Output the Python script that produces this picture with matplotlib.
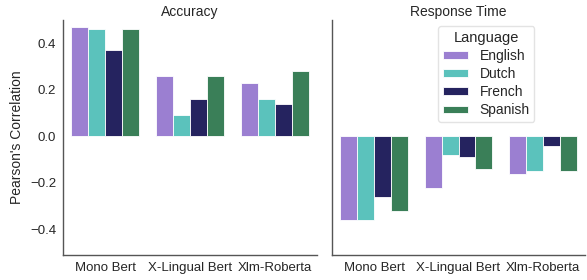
import numpy as np
import matplotlib.pyplot as plt

plt.rcParams['font.family'] = ['Liberation Sans', 'DejaVu Sans']

models = ['Mono Bert', 'X-Lingual Bert', 'Xlm-Roberta']
languages = ['English', 'Dutch', 'French', 'Spanish']
colors = ['#9b7fd1', '#5bc2bc', '#25235f', '#3a7f58']

# Pearson's correlation per model (rows) and language (cols)
accuracy = [
    [0.47, 0.46, 0.37, 0.46],
    [0.26, 0.09, 0.16, 0.26],
    [0.23, 0.16, 0.14, 0.28],
]
response_time = [
    [-0.36, -0.36, -0.26, -0.32],
    [-0.22, -0.08, -0.09, -0.14],
    [-0.16, -0.15, -0.04, -0.15],
]

fig = plt.figure(figsize=(5.87, 2.8), dpi=100)
ax1 = fig.add_axes([63 / 587, 25 / 280, 254 / 587, 235 / 280])
ax2 = fig.add_axes([332 / 587, 25 / 280, 253 / 587, 235 / 280], sharey=ax1)

x = np.arange(len(models))
w = 0.2
for ax, data, title in [(ax1, accuracy, 'Accuracy'), (ax2, response_time, 'Response Time')]:
    data = np.array(data)
    for j, lang in enumerate(languages):
        ax.bar(x - 0.3 + j * w, data[:, j], width=w, color=colors[j],
               edgecolor='white', linewidth=0.6, label=lang)
    ax.set_xticks(x)
    ax.set_xticklabels(models, fontsize=9.5, color='#262626')
    ax.set_title(title, fontsize=10, color='#262626', pad=3)
    ax.spines['top'].set_visible(False)
    ax.spines['right'].set_visible(False)
    for s in ['left', 'bottom']:
        ax.spines[s].set_color('#555555')
        ax.spines[s].set_linewidth(1.0)
    ax.tick_params(length=0, pad=5, labelsize=9.5, colors='#262626')
    ax.set_xlim(-0.5, 2.5)

ax1.set_ylim(-0.51, 0.5)
ax1.set_yticks([-0.4, -0.2, 0.0, 0.2, 0.4])
ax1.set_ylabel("Pearson's Correlation", fontsize=10, color='#262626')
ax2.tick_params(axis='y', labelleft=False)

leg = ax2.legend(title='Language', loc='upper right', bbox_to_anchor=(0.8, 0.975),
                 borderaxespad=0, fontsize=10, title_fontsize=10.5, frameon=True,
                 handlelength=1.8, handleheight=0.5, handletextpad=0.8,
                 borderpad=0.35, labelspacing=0.3)
leg.get_frame().set_edgecolor('#dddddd')
leg.get_title().set_color('#262626')
for t in leg.get_texts():
    t.set_color('#262626')

fig.savefig('out.png', dpi=100)
